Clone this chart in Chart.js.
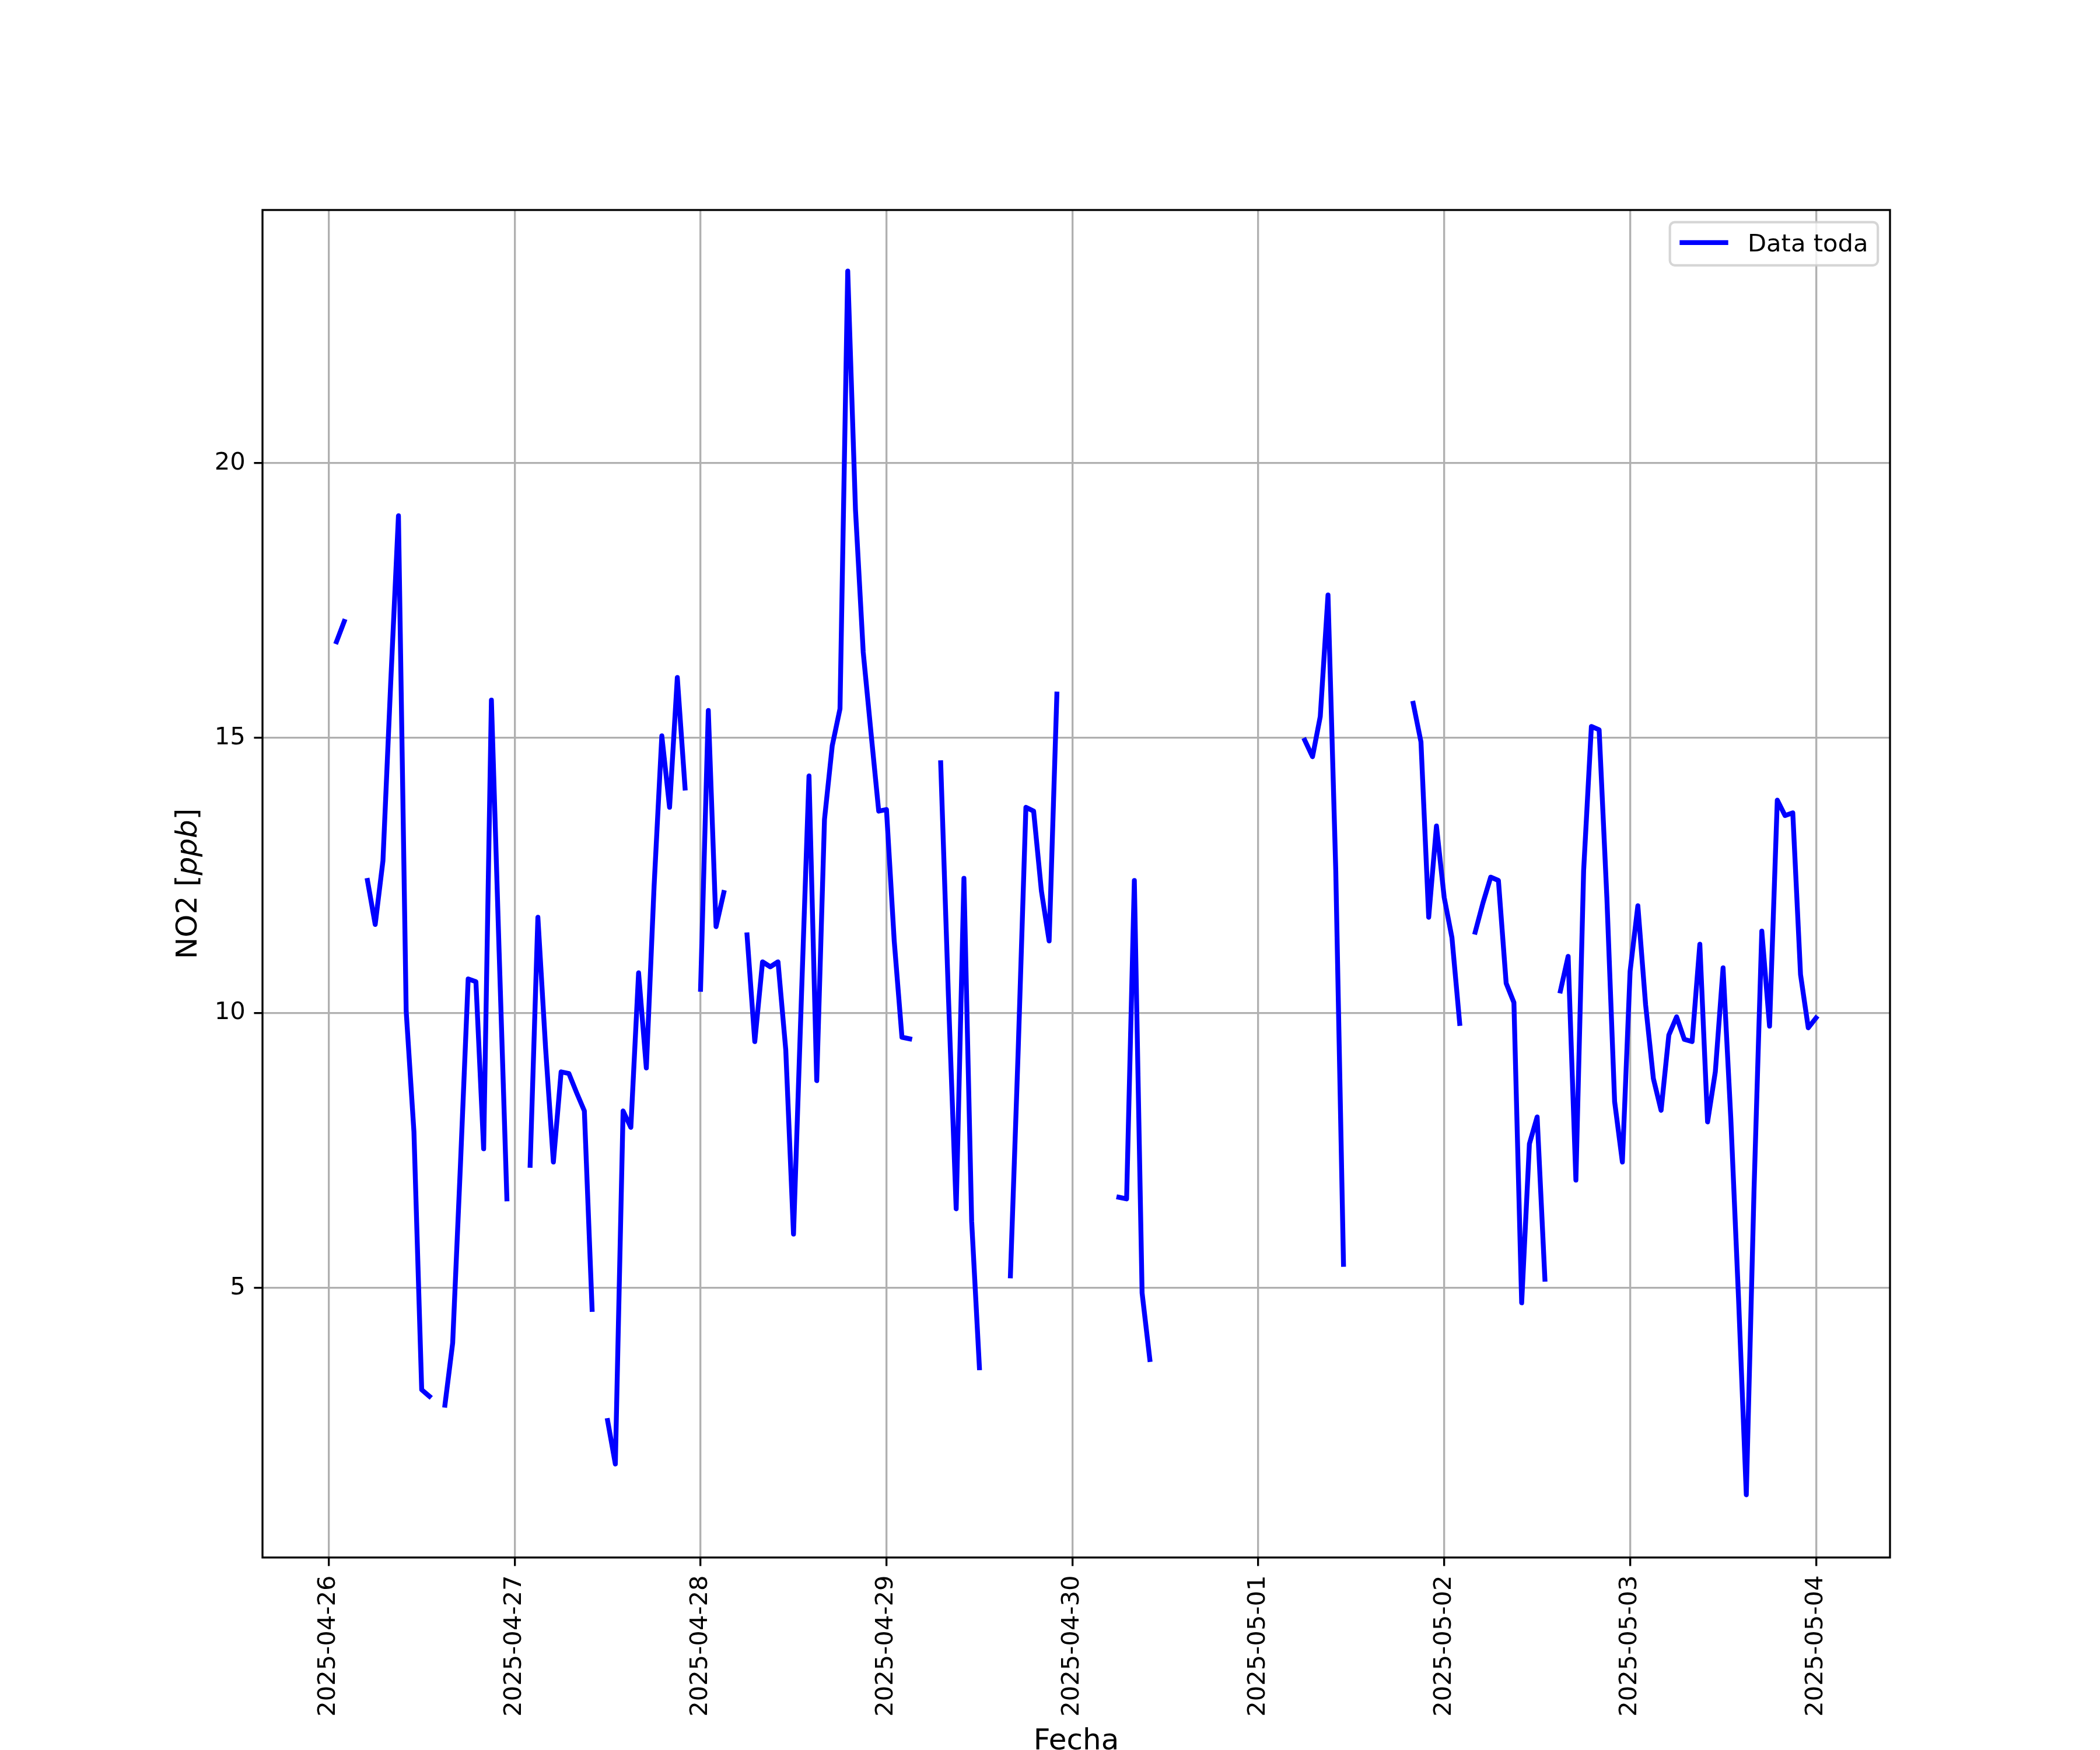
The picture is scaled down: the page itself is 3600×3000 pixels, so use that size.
<!DOCTYPE html>
<html>
<head>
<meta charset="utf-8">
<script src="https://cdn.jsdelivr.net/npm/chart.js@4.4.1/dist/chart.umd.min.js"></script>
<style>
  html, body { margin: 0; padding: 0; background: #fff; }
  canvas { display: block; }
</style>
</head>
<body>
<canvas id="no2-chart" width="3600" height="3000" style="width:3600px;height:3000px"></canvas>
<script>
// Hourly NO2 readings [ppb], one array per day, index = hour of day, null = no reading
const apr26 = [null, 16.75, 17.12, null, null, 12.41, 11.61, 12.77, 16.0, 19.04, 10.03, 7.84,
               3.15, 3.03, null, 2.87, 4.0, 7.23, 10.62, 10.57, 7.53, 15.69, 11.1, 6.62];
const apr27 = [null, null, 7.23, 11.74, 9.35, 7.29, 8.93, 8.9, 8.55, 8.22, 4.61, null,
               2.59, 1.8, 8.22, 7.92, 10.73, 9.0, 12.3, 15.04, 13.74, 16.1, 14.09, null];
const apr28 = [10.43, 15.5, 11.57, 12.19, null, null, 11.42, 9.48, 10.93, 10.84, 10.93, 9.33,
               5.98, 10.2, 14.31, 8.77, 13.52, 14.86, 15.53, 23.49, 19.15, 16.56, 15.1, 13.67];
const apr29 = [13.7, 11.31, 9.56, 9.53, null, null, null, 14.55, 10.3, 6.44, 12.45, 6.21,
               3.55, null, null, null, 5.22, 9.3, 13.74, 13.67, 12.22, 11.31, 15.8, null];
const apr30 = [null, null, null, null, null, null, 6.65, 6.62, 12.41, 4.91, 3.7, null,
               null, null, null, null, null, null, null, null, null, null, null, null];
const may01 = [null, null, null, null, null, null, 14.96, 14.66, 15.39, 17.6, 12.6, 5.43,
               null, null, null, null, null, null, null, null, 15.63, 14.93, 11.74, 13.4];
const may02 = [12.1, 11.37, 9.81, null, 11.47, 12.0, 12.47, 12.41, 10.54, 10.19, 4.73, 7.62,
               8.11, 5.16, null, 10.4, 11.03, 6.96, 12.59, 15.21, 15.15, 12.1, 8.39, 7.29];
const may03 = [10.76, 11.95, 10.15, 8.81, 8.23, 9.6, 9.93, 9.52, 9.48, 11.25, 8.02, 8.93,
               10.82, 8.08, 4.8, 1.24, 6.8, 11.49, 9.76, 13.87, 13.59, 13.64, 10.7, 9.73];
const may04 = [9.91];

const days = [apr26, apr27, apr28, apr29, apr30, may01, may02, may03, may04];
const dayLabels = ['2025-04-26', '2025-04-27', '2025-04-28', '2025-04-29', '2025-04-30',
                   '2025-05-01', '2025-05-02', '2025-05-03', '2025-05-04'];
const yTicks = [5, 10, 15, 20];
const seriesLabel = 'Data toda';

// x in days since 2025-04-26 00:00
const points = [];
days.forEach((values, d) => {
  values.forEach((v, h) => points.push({ x: d + h / 24, y: v }));
});

const PT = 300 / 72;  // px per point (figure was 300 dpi)
const FONT = 'DejaVu Sans';

Chart.defaults.font.family = FONT;
Chart.defaults.color = '#000';

// matplotlib style closed frame around the axes
const framePlugin = {
  id: 'frame',
  afterDatasetsDraw(chart) {
    const { ctx, chartArea: a } = chart;
    ctx.save();
    ctx.strokeStyle = '#000';
    ctx.lineWidth = 0.8 * PT;
    ctx.strokeRect(a.left, a.top, a.right - a.left, a.bottom - a.top);
    ctx.restore();
  }
};

// y axis title, "ppb" in italic like mathtext
const yTitlePlugin = {
  id: 'yTitle',
  afterDraw(chart) {
    const { ctx, chartArea: a } = chart;
    const parts = [['NO2 [', 'normal'], ['ppb', 'italic'], [']', 'normal']];
    const size = 12 * PT;
    ctx.save();
    let total = 0;
    const widths = parts.map(([t, s]) => {
      ctx.font = `${s} ${size}px "${FONT}"`;
      const w = ctx.measureText(t).width;
      total += w;
      return w;
    });
    ctx.translate(337, (a.top + a.bottom) / 2);
    ctx.rotate(-Math.PI / 2);
    ctx.fillStyle = '#000';
    ctx.textBaseline = 'alphabetic';
    ctx.textAlign = 'left';
    let x = -total / 2;
    parts.forEach(([t, s], i) => {
      ctx.font = `${s} ${size}px "${FONT}"`;
      ctx.fillText(t, x, 0);
      x += widths[i];
    });
    ctx.restore();
  }
};

// legend box in the upper right corner of the axes
const legendPlugin = {
  id: 'boxLegend',
  afterDraw(chart) {
    const { ctx, chartArea: a } = chart;
    const fs = 10 * PT;
    ctx.save();
    ctx.font = `${fs}px "${FONT}"`;
    const tw = ctx.measureText(seriesLabel).width;
    const pad = 0.4 * fs;
    const handle = 2.0 * fs;
    const gap = 0.8 * fs;
    const right = a.right - 0.5 * fs;
    const top = a.top + 0.5 * fs;
    const h = 74;
    const w = pad + handle + gap + tw + pad;
    const left = right - w;
    const r = 0.2 * fs;

    ctx.beginPath();
    ctx.roundRect(left, top, w, h, r);
    ctx.fillStyle = 'rgba(255,255,255,0.8)';
    ctx.fill();
    ctx.lineWidth = 1.0 * PT;
    ctx.strokeStyle = 'rgba(204,204,204,0.8)';
    ctx.stroke();

    const cy = top + h / 2 - 2;
    ctx.beginPath();
    ctx.moveTo(left + pad, cy);
    ctx.lineTo(left + pad + handle, cy);
    ctx.strokeStyle = '#0000ff';
    ctx.lineWidth = 2 * PT;
    ctx.lineCap = 'butt';
    ctx.stroke();

    ctx.fillStyle = '#000';
    ctx.textBaseline = 'alphabetic';
    ctx.fillText(seriesLabel, left + pad + handle + gap, top + 50);
    ctx.restore();
  }
};

const grid = {
  color: '#b0b0b0',
  lineWidth: 0.8 * PT,
  tickColor: '#000',
  tickWidth: 0.8 * PT,
  tickLength: 3.5 * PT
};

new Chart(document.getElementById('no2-chart'), {
  type: 'line',
  data: {
    datasets: [{
      label: seriesLabel,
      data: points,
      borderColor: '#0000ff',
      borderWidth: 2 * PT,
      borderCapStyle: 'square',
      borderJoinStyle: 'round',
      pointRadius: 0,
      tension: 0,
      spanGaps: false,
      fill: false
    }]
  },
  options: {
    responsive: false,
    devicePixelRatio: 1,
    animation: false,
    layout: { padding: { top: 360, right: 360, left: 0, bottom: 0 } },
    plugins: {
      legend: { display: false },
      tooltip: { enabled: false }
    },
    scales: {
      x: {
        type: 'linear',
        min: -8.55 / 24,
        max: 201.55 / 24,
        afterBuildTicks(scale) {
          scale.ticks = dayLabels.map((_, i) => ({ value: i }));
        },
        afterFit(scale) { scale.height = 330; },
        ticks: {
          autoSkip: false,
          minRotation: 90,
          maxRotation: 90,
          padding: 16,
          font: { size: 10 * PT },
          callback: v => dayLabels[Math.round(v)]
        },
        grid: grid,
        border: { display: false },
        title: {
          display: true,
          text: 'Fecha',
          font: { size: 12 * PT, lineHeight: 0.56 },
          padding: 0
        }
      },
      y: {
        type: 'linear',
        min: 0.1,
        max: 24.6,
        afterBuildTicks(scale) {
          scale.ticks = yTicks.map(v => ({ value: v }));
        },
        afterFit(scale) { scale.width = 450; },
        ticks: {
          padding: 3.5 * PT,
          font: { size: 10 * PT },
          callback: v => String(v)
        },
        grid: grid,
        border: { display: false },
        title: { display: false }
      }
    }
  },
  plugins: [framePlugin, yTitlePlugin, legendPlugin]
});
</script>
</body>
</html>
